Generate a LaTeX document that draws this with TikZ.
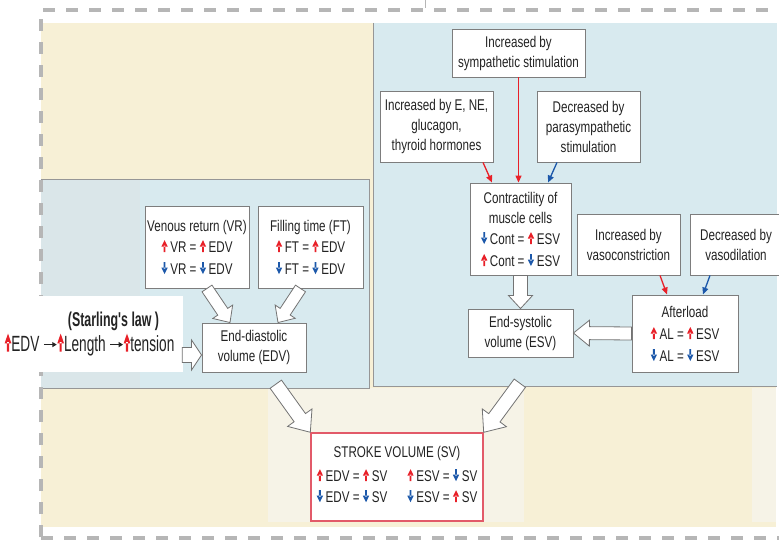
\documentclass[tikz,border=0pt]{standalone}
\usepackage{fontspec}
\setmainfont{Liberation Sans}[FakeStretch=0.75]
\newfontfamily\starfont{Liberation Sans}[FakeStretch=0.62]
\usetikzlibrary{arrows.meta,calc}
\definecolor{beige}{RGB}{247,240,214}
\definecolor{beigelt}{RGB}{246,243,231}
\definecolor{paneblue}{RGB}{216,234,239}
\definecolor{panegray}{RGB}{218,230,233}
\definecolor{edgegray}{RGB}{150,150,150}
\definecolor{boxgray}{RGB}{125,125,125}
\definecolor{dashgray}{RGB}{182,182,182}
\definecolor{arred}{RGB}{232,32,40}
\definecolor{arblue}{RGB}{28,88,170}
\definecolor{svred}{RGB}{226,90,105}
\definecolor{txt}{RGB}{35,35,35}
\newcommand\upar[1][1]{\tikz[baseline=0pt,x=#1pt,y=#1pt]\fill[arred](-0.9,0) rectangle (0.9,6.5) (-3.2,5.5) -- (3.2,5.5) -- (0,12) -- cycle;}
\newcommand\dnar[1][1]{\tikz[baseline=0pt,x=#1pt,y=#1pt]\fill[arblue](-0.9,12) rectangle (0.9,5.5) (-3.2,6.5) -- (3.2,6.5) -- (0,0) -- cycle;}
\newcommand\bigupar{\tikz[baseline=0pt,x=1.05pt,y=1.5pt]\fill[arred](-1,0) rectangle (1,6.5) (-3.2,5.5) -- (3.2,5.5) -- (0,12) -- cycle;}
\newcommand\rtarr{\tikz[baseline=0pt,x=1pt,y=1pt]\draw[txt,line width=1.1pt,-{Triangle[length=4.5pt,width=5pt]}] (0,7) -- (13,7);}
% hollow block arrow: from, to, shaft half width, head half width, head length
\newcommand\hollowarrow[5]{%
  \draw[blockarr] let \p1=(#1), \p2=(#2), \n1={atan2(\y2-\y1,\x2-\x1)}, \n2={veclen(\x2-\x1,\y2-\y1)} in
    [shift={(\p1)}, rotate=\n1] (0,-#3) -- ({\n2-#5},-#3) -- ({\n2-#5},-#4) -- (\n2,0) -- ({\n2-#5},#4) -- ({\n2-#5},#3) -- (0,#3) -- cycle;}
\tikzset{
  box/.style={draw=boxgray, line width=0.9pt, fill=white, align=center, inner sep=0pt, text=txt,
    font=\fontsize{15.5}{20}\selectfont},
  panel/.style={inner sep=0pt, fill=paneblue},
  edgeline/.style={draw=edgegray, line width=1.3pt},
  blockarr/.style={draw=black!55, fill=white, line width=0.8pt, line join=miter},
  thinred/.style={draw=arred, line width=1.3pt, -{Triangle[length=7pt,width=6pt,fill=arred]}},
  thinblue/.style={draw=arblue, line width=1.3pt, -{Triangle[length=7pt,width=6pt,fill=arblue]}},
  dashframe/.style={draw=dashgray, line width=4pt, dash pattern=on 12pt off 11pt}
}
\begin{document}
\begin{tikzpicture}[x=1pt,y=-1pt]
\useasboundingbox (0,0) rectangle (779,540);
\fill[white] (0,0) rectangle (779,540);
% backgrounds
\fill[beige] (41,23) rectangle (776,527);
\fill[beigelt] (268,388) rectangle (524,522);
\fill[beigelt] (752,388) rectangle (776,522);
\node[panel, minimum width=328pt, minimum height=208pt] (lpanel) at (205,284) {};
\node[panel, minimum width=403pt, minimum height=363pt] (rpanel) at (575.5,204.5) {};
\fill[panegray] (lpanel.north west) rectangle ($(lpanel.south west)+(99,0)$);
\draw[edgeline] (lpanel.north west) -- (lpanel.north east) -- (lpanel.south east) -- (lpanel.south west);
\draw[edgeline] (rpanel.north west) -- (rpanel.south west) -- (rpanel.south east);
% dashed frame
\draw[dashframe] (41,537) -- (41,10) -- (790,10);
\draw[dashframe] (41,538) -- (790,538);
\draw[dashgray, line width=1pt] (425,0) -- (425,8);
% boxes
\node[box, minimum width=133pt, minimum height=48pt] (symp) at (518.5,53) {Increased by\\sympathetic stimulation};
\node[box, minimum width=113pt, minimum height=71pt] (ene) at (436.5,126.5) {Increased by E, NE,\\glucagon,\\thyroid hormones};
\node[box, minimum width=103pt, minimum height=71pt] (para) at (588.5,126.5) {Decreased by\\parasympathetic\\stimulation};
\node[box, minimum width=101pt, minimum height=92pt] (cont) at (520.5,229) {Contractility of\\muscle cells\\[1pt]\dnar\,Cont = \upar\,ESV\\[2pt]\upar\,Cont = \dnar\,ESV};
\node[box, minimum width=103pt, minimum height=61pt] (vasoc) at (628.5,244.5) {Increased by\\vasoconstriction};
\node[box, minimum width=92pt, minimum height=61pt] (vasod) at (736,244.5) {Decreased by\\vasodilation};
\node[box, minimum width=106pt, minimum height=77pt] (after) at (685,333.5) {Afterload\\[2pt]\upar\,AL = \upar\,ESV\\[2pt]\dnar\,AL = \dnar\,ESV};
\node[box, minimum width=105pt, minimum height=48pt] (esv) at (520.5,333) {End-systolic\\volume (ESV)};
\node[box, minimum width=104pt, minimum height=82pt] (vr) at (197,247) {Venous return (VR)\\[1pt]\upar\,VR = \upar\,EDV\\[2pt]\dnar\,VR = \dnar\,EDV};
\node[box, minimum width=105pt, minimum height=82pt] (ft) at (310.5,247) {Filling time (FT)\\[1pt]\upar\,FT = \upar\,EDV\\[2pt]\dnar\,FT = \dnar\,EDV};
\node[box, minimum width=104pt, minimum height=49pt] (edv) at (254,347.5) {End-diastolic\\volume (EDV)};
\node[fill=white, inner sep=0pt, minimum width=183pt, minimum height=76pt, align=center, text=txt] (star) at (91.5,334)
  {\hspace*{44pt}{\starfont\bfseries\fontsize{20}{24}\selectfont (Starling's law )}\\[2pt]
   \hspace*{-4pt}{\starfont\fontsize{22}{26}\selectfont\bigupar EDV \rtarr\bigupar Length \rtarr\bigupar tension}};
\node[box, draw=svred, line width=1.3pt, minimum width=172pt, minimum height=88pt] (sv) at (397,477)
  {STROKE VOLUME (SV)\\[6pt]
   \begin{tabular}{@{}l@{\hspace{20pt}}l@{}}
   \upar\,EDV = \upar\,SV & \upar\,ESV = \dnar\,SV\\[1pt]
   \dnar\,EDV = \dnar\,SV & \dnar\,ESV = \upar\,SV
   \end{tabular}};
% thin arrows
\draw[thinred] (symp.south) -- (symp.south |- cont.north);
\draw[thinred] ($(ene.south)+(46.5,0)$) -- ($(cont.north)+(-28.5,0)$);
\draw[thinblue] ($(para.south)+(-31.5,0)$) -- ($(cont.north)+(27.5,0)$);
\draw[thinred] ($(vasoc.south)+(31.5,0)$) -- ($(after.north)+(-18,0)$);
\draw[thinblue] ($(vasod.south)+(-26,0)$) -- ($(after.north)+(18,0)$);
% hollow block arrows
\hollowarrow{$(vr.south)+(10,0)$}{$(edv.north)+(-24,0)$}{6}{12}{13}
\hollowarrow{$(ft.south)+(-10,0)$}{$(edv.north)+(24,0)$}{6}{12}{13}
\hollowarrow{$(star.east)+(-1,21)$}{$(edv.west)+(0,7.5)$}{7.5}{15}{10}
\hollowarrow{cont.south}{esv.north}{7}{12}{13}
\hollowarrow{after.west}{esv.east}{6.5}{13}{16}
\hollowarrow{$(lpanel.south west)+(235,-4)$}{sv.north west}{7}{15}{18}
\hollowarrow{$(rpanel.south west)+(146,-3)$}{sv.north east}{7}{15}{18}
\end{tikzpicture}
\end{document}
